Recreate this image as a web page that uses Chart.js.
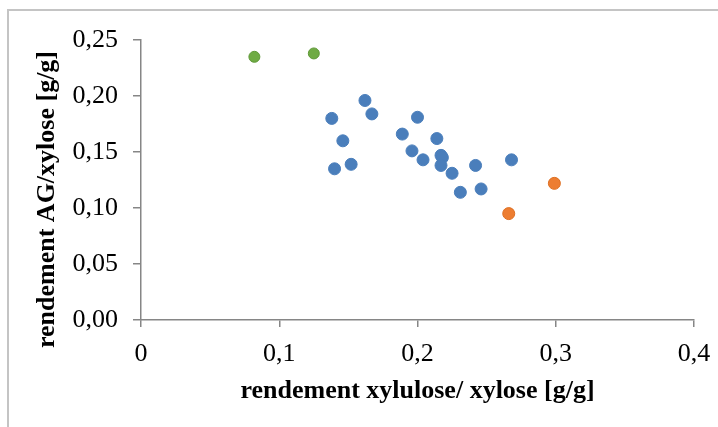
<!DOCTYPE html>
<html><head><meta charset="utf-8">
<script src="https://cdn.jsdelivr.net/npm/chart.js@4.4.1/dist/chart.umd.min.js"></script>
<style>
html,body{margin:0;padding:0;background:#fff;}
#wrap{position:relative;width:718px;height:427px;overflow:hidden;}
#frame{position:absolute;left:7px;top:9px;width:730px;height:440px;border-left:2px solid #c4c4c4;border-top:2px solid #c4c4c4;box-sizing:border-box;pointer-events:none;}
canvas{display:block;}
</style></head><body>
<div id="wrap"><canvas id="c" width="718" height="427"></canvas><div id="frame"></div></div>
<script>
const xTitle = 'rendement xylulose/ xylose [g/g]';
const yTitle = 'rendement AG/xylose [g/g]';
const xTicks = [0, 0.1, 0.2, 0.3, 0.4];
const yTicks = [0, 0.05, 0.10, 0.15, 0.20, 0.25];

const blueX = [0.138, 0.162, 0.167, 0.146, 0.140, 0.152, 0.189, 0.200, 0.196, 0.204, 0.214, 0.217, 0.218, 0.217, 0.225, 0.242, 0.268, 0.231, 0.246];
const blueY = [0.180, 0.196, 0.184, 0.160, 0.135, 0.139, 0.166, 0.181, 0.151, 0.143, 0.162, 0.147, 0.145, 0.138, 0.131, 0.138, 0.143, 0.114, 0.117];
const orangeX = [0.266, 0.299];
const orangeY = [0.095, 0.122];
const greenX = [0.082, 0.125];
const greenY = [0.235, 0.238];

const pts = (xs, ys) => xs.map((x, i) => ({x: x, y: ys[i]}));
const FONT = "'Liberation Serif', 'Times New Roman', serif";
const AXIS = '#868686';

new Chart(document.getElementById('c'), {
  type: 'scatter',
  data: {
    datasets: [
      {data: pts(blueX, blueY), backgroundColor: '#4a7ebb', borderColor: '#4a7ebb', borderWidth: 1, pointRadius: 6},
      {data: pts(orangeX, orangeY), backgroundColor: '#ed7d31', borderColor: '#dd6f22', borderWidth: 1, pointRadius: 6},
      {data: pts(greenX, greenY), backgroundColor: '#6fab44', borderColor: '#5f9838', borderWidth: 1, pointRadius: 5.5}
    ]
  },
  options: {
    responsive: false,
    animation: false,
    layout: {padding: {top: 40, right: 24, left: 0, bottom: 0}},
    plugins: {legend: {display: false}, tooltip: {enabled: false}},
    scales: {
      x: {
        type: 'linear', min: 0, max: 0.4,
        afterBuildTicks: s => { s.ticks = xTicks.map(v => ({value: v})); },
        afterFit: s => { s.height = 107; s.paddingRight = 0; s.paddingLeft = 0; },
        ticks: {color: '#000', font: {family: FONT, size: 26}, padding: 12,
                callback: v => v === 0 ? '0' : v.toFixed(1).replace('.', ',')},
        grid: {drawOnChartArea: false, drawTicks: true, tickLength: 7, color: AXIS, lineWidth: 1.5},
        border: {display: true, color: AXIS, width: 1.5},
        title: {display: true, text: xTitle, color: '#000', font: {family: FONT, size: 26, weight: 'bold'}, padding: {top: 0, bottom: 20}}
      },
      y: {
        type: 'linear', min: 0, max: 0.25,
        afterBuildTicks: s => { s.ticks = yTicks.map(v => ({value: v})); },
        afterFit: s => { s.width = 141; },
        ticks: {color: '#000', font: {family: FONT, size: 26}, padding: 15,
                callback: v => v.toFixed(2).replace('.', ',')},
        grid: {drawOnChartArea: false, drawTicks: true, tickLength: 8, color: AXIS, lineWidth: 1.5},
        border: {display: true, color: AXIS, width: 1.5},
        title: {display: true, text: yTitle + '      ', color: '#000', font: {family: FONT, size: 26, weight: 'bold'}, padding: {top: 32, bottom: 0}}
      }
    }
  }
});
</script>
</body></html>
